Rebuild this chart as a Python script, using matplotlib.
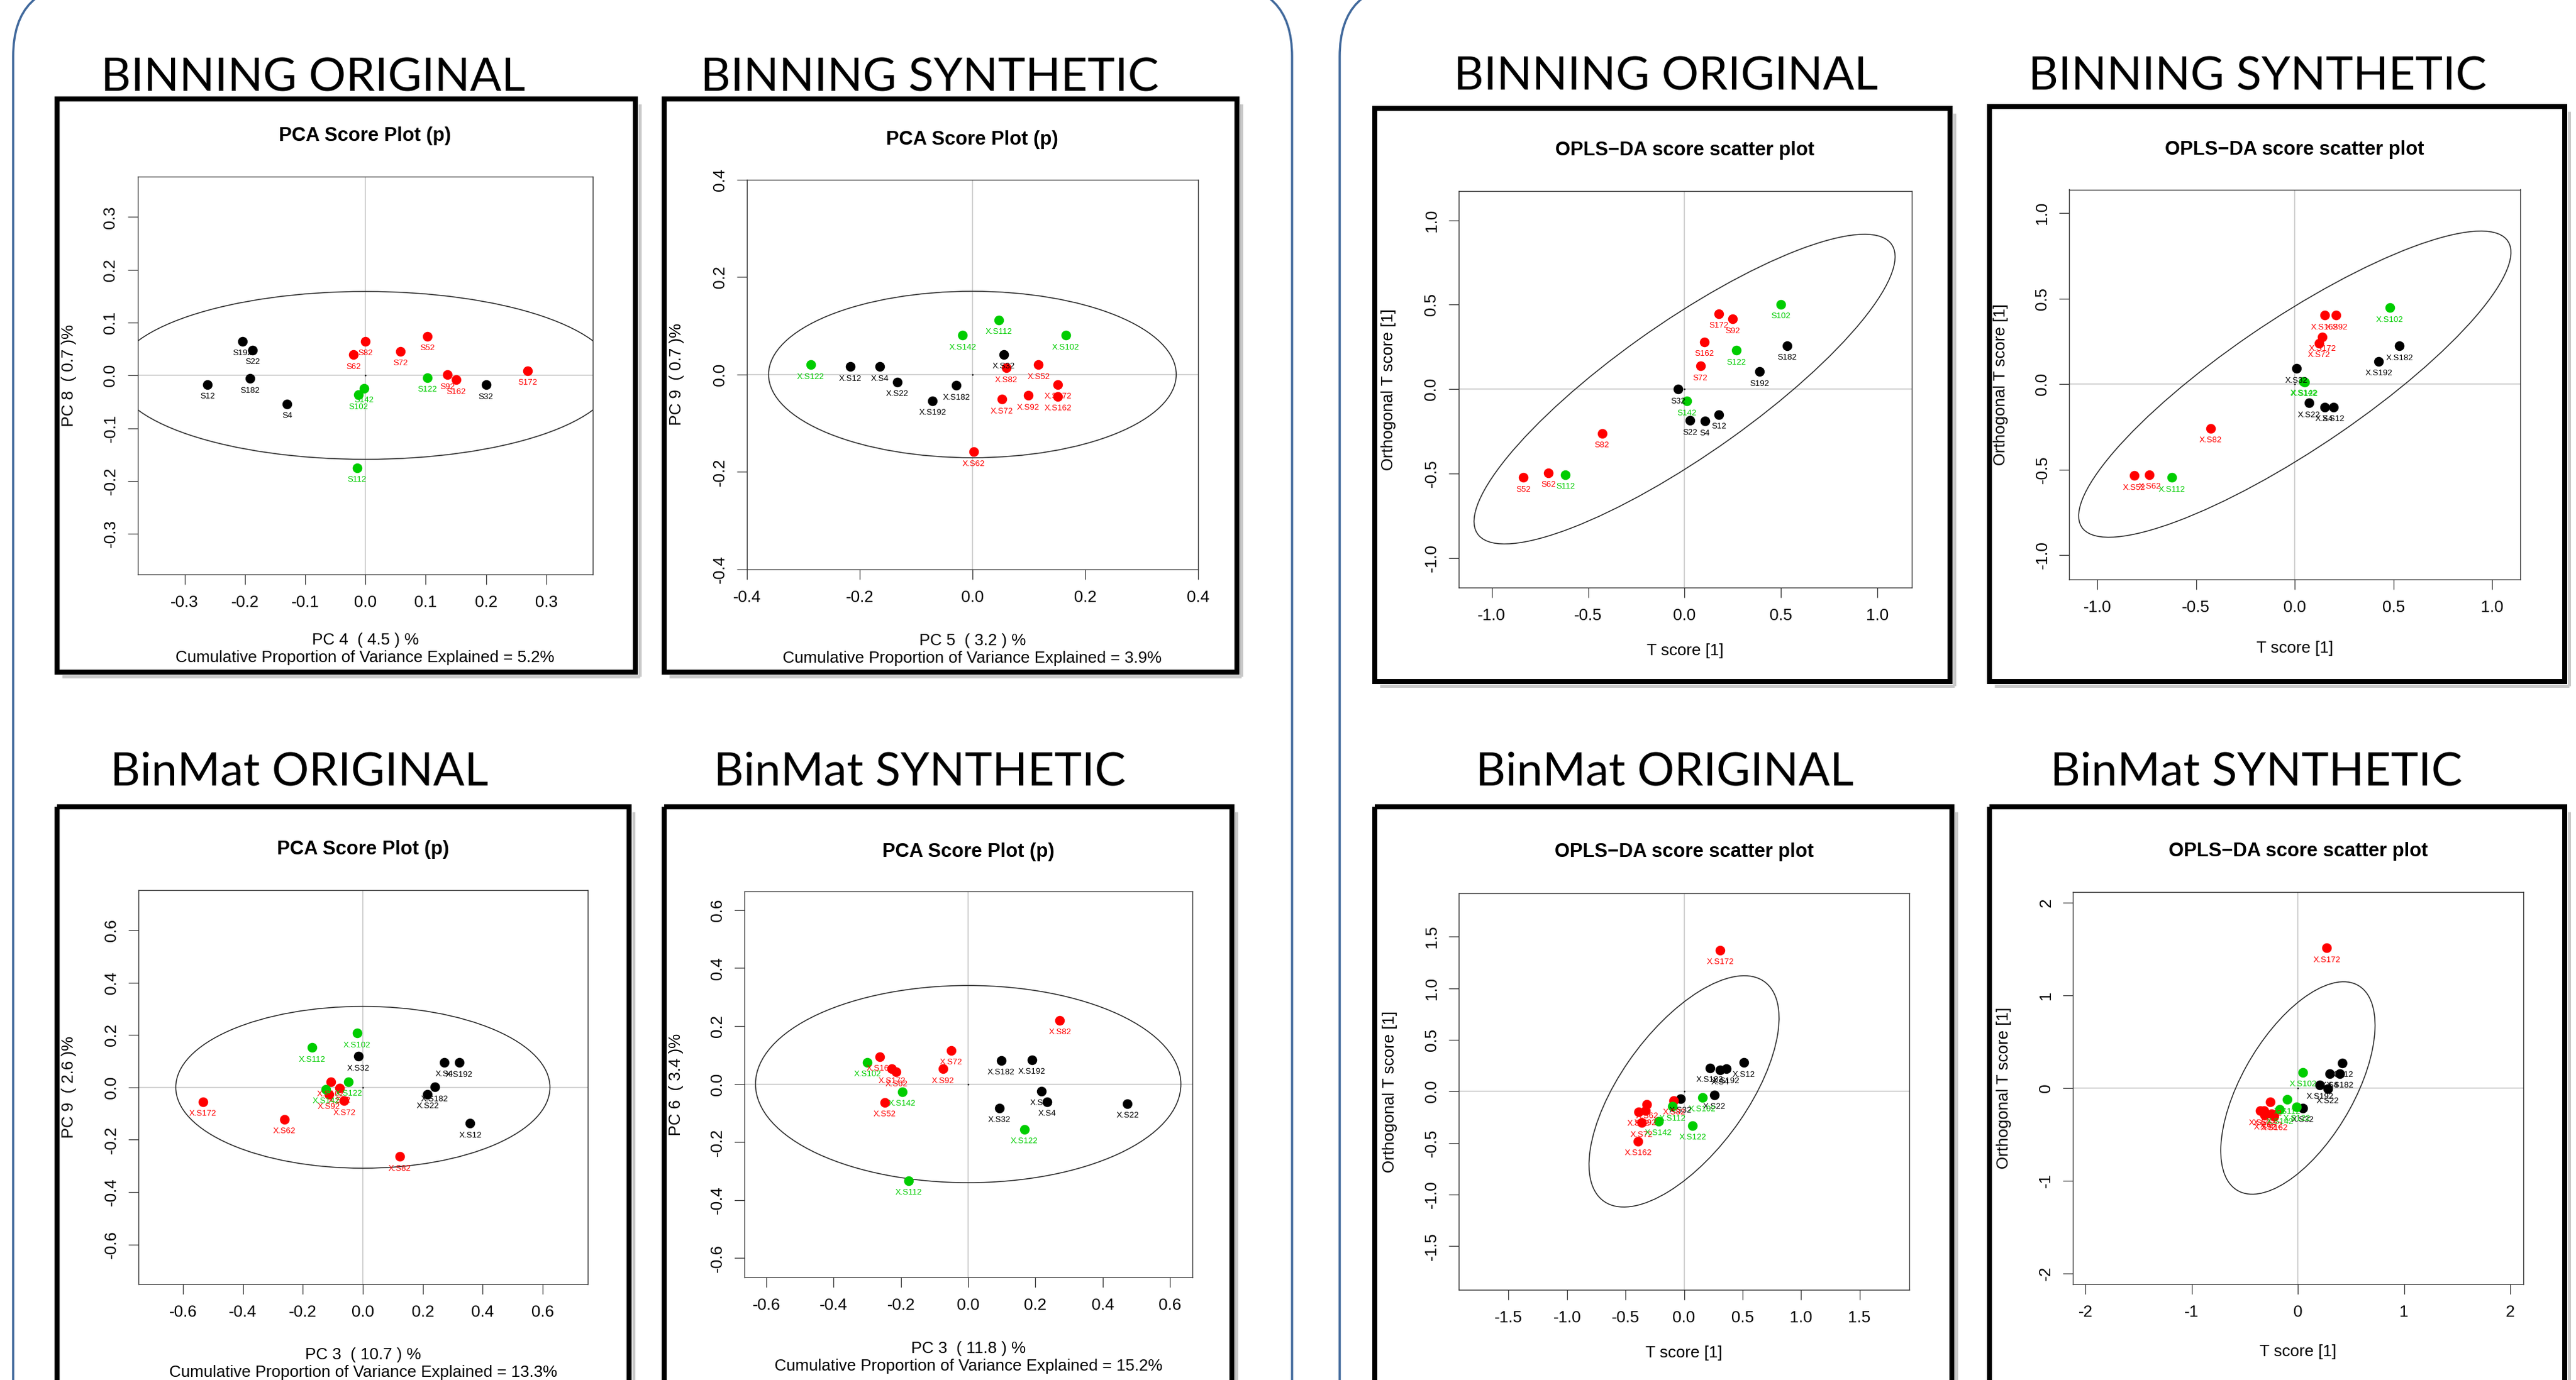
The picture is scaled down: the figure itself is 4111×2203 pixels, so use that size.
import numpy as np
import matplotlib.pyplot as plt
from matplotlib.patches import Ellipse, Rectangle, FancyBboxPatch
from matplotlib.ticker import FormatStrFormatter

W, H, DPI = 4111, 2203, 100
PX = 72 / DPI  # one pixel in points

plt.rcParams["font.family"] = ["Liberation Sans", "DejaVu Sans"]

COL = {"k": "black", "r": "#FF0000", "g": "#00CD00"}

# ---------------------------------------------------------------- samples
# group of every sample: 6 black, 7 red, 4 green
grp = ["k", "k", "k", "k", "k", "k",
       "r", "r", "r", "r", "r", "r", "r",
       "g", "g", "g", "g"]
names = ["S12", "S22", "S32", "S4", "S182", "S192",
         "S52", "S62", "S72", "S82", "S92", "S162", "S172",
         "S102", "S112", "S122", "S142"]
names_x = ["X.S12", "X.S22", "X.S32", "X.S4", "X.S182", "X.S192",
           "X.S52", "X.S62", "X.S72", "X.S82", "X.S92", "X.S162", "X.S172",
           "X.S102", "X.S112", "X.S122", "X.S142"]

# BINNING ORIGINAL - PCA (PC 4 / PC 8)
bo_pca_x = [-0.262, -0.187, 0.200, -0.130, -0.191, -0.204,
            0.103, -0.020, 0.058, 0.000, 0.136, 0.150, 0.269,
            -0.012, -0.014, 0.103, -0.002]
bo_pca_y = [-0.017, 0.048, -0.018, -0.054, -0.006, 0.065,
            0.074, 0.039, 0.046, 0.065, 0.001, -0.008, 0.009,
            -0.037, -0.175, -0.004, -0.024]

# BINNING SYNTHETIC - PCA (PC 5 / PC 9)
bs_pca_x = [-0.2165, -0.1336, 0.0558, -0.164, -0.0285, -0.0707,
            0.1173, 0.0019, 0.0525, 0.0603, 0.0992, 0.1517, 0.1517,
            0.1653, 0.0473, -0.2866, -0.0175]
bs_pca_y = [0.0165, -0.015, 0.0414, 0.0165, -0.0226, -0.054,
            0.0203, -0.1586, -0.0504, 0.0135, -0.0429, -0.0451, -0.0203,
            0.0805, 0.112, 0.0203, 0.0805]

# BINNING ORIGINAL - OPLS-DA
bo_opls_x = [0.179, 0.028, -0.034, 0.105, 0.532, 0.390,
             -0.837, -0.707, 0.082, -0.428, 0.249, 0.102, 0.179,
             0.498, -0.618, 0.269, 0.013]
bo_opls_y = [-0.151, -0.186, 0.0, -0.190, 0.257, 0.104,
             -0.523, -0.496, 0.137, -0.261, 0.416, 0.279, 0.447,
             0.503, -0.507, 0.230, -0.071]

# BINNING SYNTHETIC - OPLS-DA
bs_opls_x = [0.197, 0.073, 0.009, 0.150, 0.530, 0.425,
             -0.813, -0.736, 0.122, -0.427, 0.210, 0.150, 0.140,
             0.481, -0.624, 0.050, 0.045]
bs_opls_y = [-0.134, -0.110, 0.091, -0.134, 0.223, 0.134,
             -0.536, -0.530, 0.240, -0.259, 0.404, 0.404, 0.277,
             0.448, -0.547, 0.012, 0.017]

# BinMat ORIGINAL - PCA (PC 3 / PC 9)
mo_pca_x = [0.358, 0.216, -0.015, 0.271, 0.240, 0.321,
            -0.078, -0.262, -0.062, 0.123, -0.113, -0.107, -0.534,
            -0.019, -0.170, -0.048, -0.123]
mo_pca_y = [-0.138, -0.026, 0.119, 0.096, 0.001, 0.094,
            -0.003, -0.122, -0.051, -0.264, -0.028, 0.020, -0.055,
            0.207, 0.152, 0.021, -0.007]

# BinMat SYNTHETIC - PCA (PC 3 / PC 6)
ms_pca_x = [0.2181, 0.4738, 0.093, 0.2355, 0.0985, 0.1898,
            -0.2486, -0.2138, -0.0506, 0.2725, -0.0756, -0.2627, -0.2268,
            -0.2997, -0.1768, 0.167, -0.1964]
ms_pca_y = [-0.024, -0.0668, -0.082, -0.0605, 0.082, 0.0845,
            -0.063, 0.0416, 0.116, 0.2206, 0.053, 0.0945, 0.053,
            0.0756, -0.3328, -0.1563, -0.0265]

# BinMat ORIGINAL - OPLS-DA
mo_opls_x = [0.512, 0.259, -0.032, 0.310, 0.221, 0.361,
             -0.387, -0.317, -0.361, -0.086, -0.329, -0.393, 0.310,
             0.157, -0.099, 0.074, -0.217]
mo_opls_y = [0.279, -0.033, -0.069, 0.207, 0.229, 0.218,
             -0.196, -0.123, -0.305, -0.087, -0.189, -0.482, 1.371,
             -0.058, -0.145, -0.330, -0.287]

# BinMat SYNTHETIC - OPLS-DA
ms_opls_x = [0.416, 0.280, 0.047, 0.301, 0.395, 0.207,
             -0.357, -0.318, -0.249, -0.259, -0.312, -0.224, 0.273,
             0.047, -0.103, -0.012, -0.172]
ms_opls_y = [0.271, -0.008, -0.215, 0.156, 0.156, 0.036,
             -0.247, -0.247, -0.275, -0.148, -0.295, -0.303, 1.511,
             0.171, -0.124, -0.203, -0.231]

# confidence ellipses: semi-axis a, semi-axis b, angle (deg)
bo_pca_ell = (0.414, 0.159, 0.0)
bs_pca_ell = (0.3614, 0.171, 0.0)
bo_opls_ell = (1.375, 0.378, 39.2)
bs_opls_ell = (1.3665, 0.3654, 38.4)
mo_pca_ell = (0.624, 0.309, 0.0)
ms_pca_ell = (0.6326, 0.340, 0.0)
mo_opls_ell = (1.2685, 0.5555, 58.7)
ms_opls_ell = (1.2458, 0.5392, 64.3)

# tick values
t_03 = [-0.3, -0.2, -0.1, 0.0, 0.1, 0.2, 0.3]
t_04 = [-0.4, -0.2, 0.0, 0.2, 0.4]
t_06 = [-0.6, -0.4, -0.2, 0.0, 0.2, 0.4, 0.6]
t_10 = [-1.0, -0.5, 0.0, 0.5, 1.0]
t_15 = [-1.5, -1.0, -0.5, 0.0, 0.5, 1.0, 1.5]
t_2 = [-2, -1, 0, 1, 2]

pca_title = "PCA Score Plot (p)"
opls_title = "OPLS\u2212DA score scatter plot"
cum = "Cumulative Proportion of Variance Explained = "

panels = [
    dict(x=bo_pca_x, y=bo_pca_y, lab=names, ell=bo_pca_ell, title=pca_title,
         xlab="PC 4  ( 4.5 ) %\n" + cum + "5.2%", ylab="PC 8  ( 0.7 )%",
         xlim=(-0.378, 0.377), ylim=(-0.377, 0.377), xt=t_03, yt=t_03, fmt="%.1f",
         box=(219.5, 281.6, 946, 917), frame=(91, 158, 1014, 1073),
         ty=217, xly=1036, ylx=110),
    dict(x=bs_pca_x, y=bs_pca_y, lab=names_x, ell=bs_pca_ell, title=pca_title,
         xlab="PC 5  ( 3.2 ) %\n" + cum + "3.9%", ylab="PC 9  ( 0.7 )%",
         xlim=(-0.4, 0.4), ylim=(-0.4, 0.4), xt=t_04, yt=t_04, fmt="%.1f",
         box=(1191.8, 287.1, 1911.9, 908.6), frame=(1060, 158, 1974, 1073),
         ty=223, xly=1037, ylx=1080),
    dict(x=bo_opls_x, y=bo_opls_y, lab=names, ell=bo_opls_ell, title=opls_title,
         xlab="T score [1]", ylab="Orthogonal T score [1]",
         xlim=(-1.173, 1.177), ylim=(-1.176, 1.172), xt=t_10, yt=t_10, fmt="%.1f",
         box=(2327.5, 305.3, 3050.5, 938.1), frame=(2194, 173, 3112, 1088),
         ty=240, xly=1039, ylx=2216),
    dict(x=bs_opls_x, y=bs_opls_y, lab=names_x, ell=bs_opls_ell, title=opls_title,
         xlab="T score [1]", ylab="Orthogonal T score [1]",
         xlim=(-1.142, 1.142), ylim=(-1.142, 1.139), xt=t_10, yt=t_10, fmt="%.1f",
         box=(3302.4, 302.5, 4022.1, 924.8), frame=(3175, 170, 4093, 1088),
         ty=239, xly=1035, ylx=3193),
    dict(x=mo_pca_x, y=mo_pca_y, lab=names_x, ell=mo_pca_ell, title=pca_title,
         xlab="PC 3  ( 10.7 ) %\n" + cum + "13.3%", ylab="PC 9  ( 2.6 )%",
         xlim=(-0.749, 0.751), ylim=(-0.752, 0.752), xt=t_06, yt=t_06, fmt="%.1f",
         box=(220.7, 1421.4, 938.4, 2050.1), frame=(91, 1288, 1004, 2212),
         ty=1356, xly=2177, ylx=110),
    dict(x=ms_pca_x, y=ms_pca_y, lab=names_x, ell=ms_pca_ell, title=pca_title,
         xlab="PC 3  ( 11.8 ) %\n" + cum + "15.2%", ylab="PC 6  ( 3.4 )%",
         xlim=(-0.665, 0.666), ylim=(-0.666, 0.664), xt=t_06, yt=t_06, fmt="%.1f",
         box=(1188.3, 1423.3, 1902.5, 2038.9), frame=(1060, 1288, 1966, 2212),
         ty=1360, xly=2167, ylx=1079),
    dict(x=mo_opls_x, y=mo_opls_y, lab=names_x, ell=mo_opls_ell, title=opls_title,
         xlab="T score [1]", ylab="Orthogonal T score [1]",
         xlim=(-1.925, 1.925), ylim=(-1.926, 1.922), xt=t_15, yt=t_15, fmt="%.1f",
         box=(2328.1, 1425.9, 3046.9, 2059.3), frame=(2194, 1288, 3115, 2212),
         ty=1360, xly=2160, ylx=2218),
    dict(x=ms_opls_x, y=ms_opls_y, lab=names_x, ell=ms_opls_ell, title=opls_title,
         xlab="T score [1]", ylab="Orthogonal T score [1]",
         xlim=(-2.118, 2.122), ylim=(-2.118, 2.114), xt=t_2, yt=t_2, fmt="%d",
         box=(3308.3, 1424.2, 4026.8, 2050.1), frame=(3175, 1288, 4093, 2212),
         ty=1359, xly=2158, ylx=3198),
]

# section headings above the panels: text, centre x, baseline y
head_txt = ["BINNING ORIGINAL", "BINNING SYNTHETIC", "BINNING ORIGINAL", "BINNING SYNTHETIC",
            "BinMat ORIGINAL", "BinMat SYNTHETIC", "BinMat ORIGINAL", "BinMat SYNTHETIC"]
head_x = [500, 1484, 2659, 3603, 478, 1468, 2657, 3601]
head_y = [146, 146, 144, 144, 1253, 1253, 1253, 1253]

# ---------------------------------------------------------------- figure
fig = plt.figure(figsize=(W / DPI, H / DPI), dpi=DPI)
fig.patch.set_facecolor("white")

# background layer in pixel units (y downwards)
bg = fig.add_axes([0, 0, 1, 1])
bg.set_xlim(0, W)
bg.set_ylim(H, 0)
bg.axis("off")

blue = "#41699C"
for x0, w in [(21, 2041), (2138, 2400)]:
    bg.add_patch(FancyBboxPatch((x0, -25), w, 2500,
                                boxstyle="round,pad=0,rounding_size=115",
                                fill=False, ec=blue, lw=3.5 * PX))

for t, hx, hy in zip(head_txt, head_x, head_y):
    bg.text(hx, hy, t, ha="center", va="baseline", family="Lato",
            fontsize=74 * PX, color="black")

for p in panels:
    x0, y0, x1, y1 = p["frame"]
    # soft shadow right / bottom
    bg.plot([x1 + 7, x1 + 7], [y0 + 8, y1 + 7], color="#c8c8c8", lw=5 * PX,
            solid_capstyle="butt")
    bg.plot([x0 + 8, x1 + 7], [y1 + 7, y1 + 7], color="#c8c8c8", lw=5 * PX,
            solid_capstyle="butt")
    bg.add_patch(Rectangle((x0, y0), x1 - x0, y1 - y0, fill=False,
                           ec="black", lw=8 * PX, joinstyle="miter"))

# ---------------------------------------------------------------- panels
for p in panels:
    L, T, R, B = p["box"]
    ax = fig.add_axes([L / W, 1 - B / H, (R - L) / W, (B - T) / H])
    ax.set_xlim(p["xlim"])
    ax.set_ylim(p["ylim"])

    ax.axhline(0, color="#c4c4c4", lw=1.5 * PX, zorder=1)
    ax.axvline(0, color="#c4c4c4", lw=1.5 * PX, zorder=1)

    a, b, ang = p["ell"]
    ax.add_patch(Ellipse((0, 0), 2 * a, 2 * b, angle=ang, fill=False,
                         ec="#2a2a2a", lw=1.6 * PX, zorder=2))
    ax.plot([0], [0], marker="o", ms=2.5 * PX, color="black", mec="none", zorder=2)

    px = np.array(p["x"])
    py = np.array(p["y"])
    for g in ["k", "r", "g"]:
        idx = [i for i, gi in enumerate(grp) if gi == g]
        ax.scatter(px[idx], py[idx], s=(15.5 * PX) ** 2, color=COL[g],
                   linewidths=0, zorder=3)
        for i in idx:
            ax.annotate(p["lab"][i], (px[i], py[i]), xytext=(0, -19.5 * PX),
                        textcoords="offset points", ha="center", va="center",
                        fontsize=13.3 * PX, color=COL[g], zorder=4)

    ax.set_xticks(p["xt"])
    ax.set_yticks(p["yt"])
    ax.xaxis.set_major_formatter(FormatStrFormatter(p["fmt"]))
    ax.yaxis.set_major_formatter(FormatStrFormatter(p["fmt"]))
    ax.tick_params(direction="out", length=16 * PX, width=1.3 * PX,
                   labelsize=26 * PX, color="#333333", top=False, right=False)
    ax.tick_params(axis="x", pad=17 * PX)
    ax.tick_params(axis="y", pad=15 * PX, labelrotation=90)
    plt.setp(ax.get_yticklabels(), va="center")
    for s in ax.spines.values():
        s.set_linewidth(1.4 * PX)
        s.set_color("#333333")

    ax.set_xlabel(p["xlab"], fontsize=26 * PX, va="center", linespacing=1.2)
    ax.xaxis.set_label_coords((L + R) / 2, p["xly"], transform=bg.transData)
    ax.set_ylabel(p["ylab"], fontsize=26 * PX, va="center")
    ax.yaxis.set_label_coords(p["ylx"], (T + B) / 2, transform=bg.transData)

    bg.text((L + R) / 2, p["ty"], p["title"], ha="center", va="center",
            fontsize=31 * PX, fontweight="bold")

fig.savefig("out.png", dpi=DPI, facecolor="white")
